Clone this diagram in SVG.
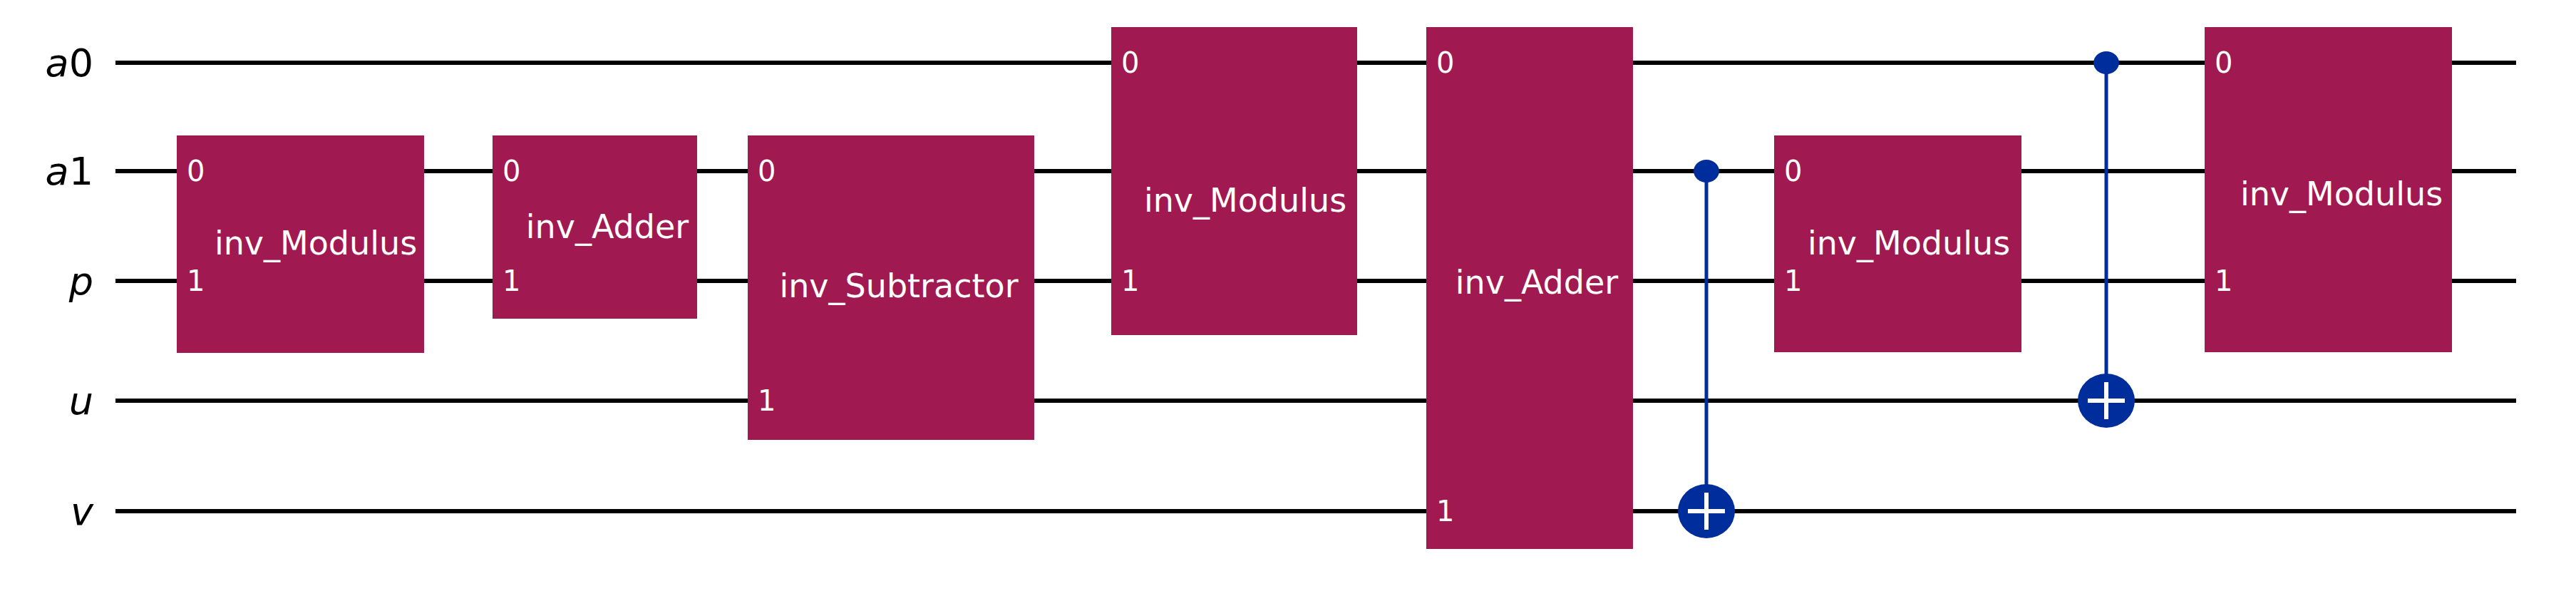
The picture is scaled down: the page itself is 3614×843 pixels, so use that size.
<svg xmlns="http://www.w3.org/2000/svg" width="3614" height="843" viewBox="0 0 3614 843">
<style>
.w{stroke:#000;stroke-width:6;fill:none}
.b{fill:#a01950}
.t{font-family:"DejaVu Sans",sans-serif;font-size:46px;fill:#fff;text-anchor:middle;dominant-baseline:central}
.p{font-family:"DejaVu Sans",sans-serif;font-size:40px;fill:#fff;dominant-baseline:central}
.l{font-family:"DejaVu Sans",sans-serif;font-size:54px;fill:#000;text-anchor:end;dominant-baseline:central}
.c{stroke:#002d9c;stroke-width:5}
.d{fill:#002d9c}
.x{stroke:#fff;stroke-width:6}
</style>
<g id="wires">
<line class="w" x1="162" y1="88" x2="3530" y2="88"/>
<line class="w" x1="162" y1="240" x2="3530" y2="240"/>
<line class="w" x1="162" y1="394" x2="3530" y2="394"/>
<line class="w" x1="162" y1="562" x2="3530" y2="562"/>
<line class="w" x1="162" y1="717" x2="3530" y2="717"/>
</g>
<g id="labels">
<text class="l" x="131" y="88"><tspan font-style="italic">a</tspan>0</text>
<text class="l" x="131" y="240"><tspan font-style="italic">a</tspan>1</text>
<text class="l" x="131" y="394" font-style="italic">p</text>
<text class="l" x="131" y="562" font-style="italic">u</text>
<text class="l" x="131" y="717" font-style="italic">v</text>
</g>
<g id="connectors">
<line class="c" x1="2394" y1="240" x2="2394" y2="717"/>
<line class="c" x1="2955" y1="88" x2="2955" y2="562"/>
</g>
<g id="box1"><rect class="b" x="248" y="190" width="347" height="305"/><text class="p" x="262" y="240">0</text><text class="p" x="262" y="394">1</text><text class="t" x="443" y="341">inv_Modulus</text></g>
<g id="box2"><rect class="b" x="691" y="190" width="287" height="257"/><text class="p" x="705" y="240">0</text><text class="p" x="705" y="394">1</text><text class="t" x="852" y="318">inv_Adder</text></g>
<g id="box3"><rect class="b" x="1049" y="190" width="402" height="427"/><text class="p" x="1063" y="240">0</text><text class="p" x="1063" y="562">1</text><text class="t" x="1261" y="401">inv_Subtractor</text></g>
<g id="box4"><rect class="b" x="1559" y="38" width="345" height="432"/><text class="p" x="1573" y="88">0</text><text class="p" x="1573" y="394">1</text><text class="t" x="1747" y="281">inv_Modulus</text></g>
<g id="box5"><rect class="b" x="2001" y="38" width="290" height="732"/><text class="p" x="2015" y="88">0</text><text class="p" x="2015" y="717">1</text><text class="t" x="2156" y="396">inv_Adder</text></g>
<g id="cx1"><ellipse class="d" cx="2394" cy="240" rx="18" ry="16"/><ellipse class="d" cx="2394" cy="717" rx="40" ry="38"/><line class="x" x1="2368" y1="717" x2="2420" y2="717"/><line class="x" x1="2394" y1="691" x2="2394" y2="743"/></g>
<g id="box6"><rect class="b" x="2489" y="190" width="347" height="304"/><text class="p" x="2503" y="240">0</text><text class="p" x="2503" y="394">1</text><text class="t" x="2678" y="341">inv_Modulus</text></g>
<g id="cx2"><ellipse class="d" cx="2955" cy="88" rx="18" ry="16"/><ellipse class="d" cx="2955" cy="562" rx="40" ry="38"/><line class="x" x1="2929" y1="562" x2="2981" y2="562"/><line class="x" x1="2955" y1="536" x2="2955" y2="588"/></g>
<g id="box7"><rect class="b" x="3093" y="38" width="347" height="456"/><text class="p" x="3107" y="88">0</text><text class="p" x="3107" y="394">1</text><text class="t" x="3285" y="272">inv_Modulus</text></g>
</svg>
